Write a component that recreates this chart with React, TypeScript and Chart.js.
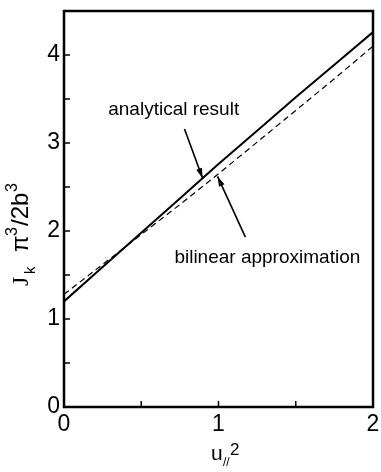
import React, { useEffect, useRef } from "react";
import { Chart, registerables } from "chart.js";

Chart.register(...registerables);

const xValues = [0, 0.25, 0.5, 0.75, 1, 1.25, 1.5, 1.75, 2];
const analytical = [1.2, 1.59, 1.98, 2.37, 2.76, 3.14, 3.52, 3.89, 4.26];
const bilinear = [1.28, 1.62, 1.96, 2.3, 2.65, 3.01, 3.37, 3.73, 4.1];
const xTickLabels = ["0", "1", "2"];
const yTickLabels = ["0", "1", "2", "3", "4"];

// annotation anchors in data units
const analyticalNote = { text: "analytical result", lx: 0.71, ly: 3.38, sx: 0.78, sy: 3.16, tx: 0.897, ty: 2.6 };
const bilinearNote = { text: "bilinear approximation", lx: 1.316, ly: 1.7, sx: 1.174, sy: 1.93, tx: 0.994, ty: 2.62 };

const FONT = "'Liberation Sans', Arial, Helvetica, sans-serif";
const SERIF = "'Liberation Serif', 'Times New Roman', serif";

const decorPlugin = {
  id: "decor",
  afterDraw(chart: any) {
    const { ctx, chartArea, scales } = chart;
    const xs = scales.x;
    const ys = scales.y;
    ctx.save();
    ctx.strokeStyle = "#000";
    ctx.lineWidth = 2.5;
    ctx.strokeRect(chartArea.left, chartArea.top, chartArea.right - chartArea.left, chartArea.bottom - chartArea.top);
    ctx.lineWidth = 1.5;
    for (const t of xs.ticks) {
      const px = xs.getPixelForValue(t.value);
      ctx.beginPath();
      ctx.moveTo(px, chartArea.bottom);
      ctx.lineTo(px, chartArea.bottom - 6);
      ctx.stroke();
    }
    for (const t of ys.ticks) {
      const py = ys.getPixelForValue(t.value);
      ctx.beginPath();
      ctx.moveTo(chartArea.left, py);
      ctx.lineTo(chartArea.left + 6, py);
      ctx.stroke();
    }
    const notes = [analyticalNote, bilinearNote];
    ctx.fillStyle = "#000";
    ctx.font = `19px ${FONT}`;
    ctx.textAlign = "center";
    ctx.textBaseline = "middle";
    for (const n of notes) {
      ctx.fillText(n.text, xs.getPixelForValue(n.lx), ys.getPixelForValue(n.ly));
      const x0 = xs.getPixelForValue(n.sx);
      const y0 = ys.getPixelForValue(n.sy);
      const x1 = xs.getPixelForValue(n.tx);
      const y1 = ys.getPixelForValue(n.ty);
      ctx.lineWidth = 1.6;
      ctx.beginPath();
      ctx.moveTo(x0, y0);
      ctx.lineTo(x1, y1);
      ctx.stroke();
      const ang = Math.atan2(y1 - y0, x1 - x0);
      const L = 10;
      const W = 3;
      ctx.beginPath();
      ctx.moveTo(x1, y1);
      ctx.lineTo(x1 - L * Math.cos(ang) + W * Math.sin(ang), y1 - L * Math.sin(ang) - W * Math.cos(ang));
      ctx.lineTo(x1 - L * Math.cos(ang) - W * Math.sin(ang), y1 - L * Math.sin(ang) + W * Math.cos(ang));
      ctx.closePath();
      ctx.fill();
    }
    // x axis title
    ctx.textAlign = "left";
    ctx.textBaseline = "alphabetic";
    ctx.font = `21px ${FONT}`;
    ctx.fillText("u", 211, 460);
    ctx.font = `12px ${FONT}`;
    ctx.fillText("//", 223, 466);
    ctx.font = `17px ${FONT}`;
    ctx.fillText("2", 230, 455);
    // y axis title (rotated)
    ctx.translate(28, 0);
    ctx.rotate(-Math.PI / 2);
    ctx.font = `24px ${SERIF}`;
    ctx.fillText("J", -286, 0);
    ctx.font = `15px ${FONT}`;
    ctx.fillText("k", -274, 7);
    ctx.font = `24px ${FONT}`;
    ctx.fillText("\u03c0", -252, 0);
    ctx.font = `16px ${FONT}`;
    ctx.fillText("3", -236, -11);
    ctx.font = `24px ${FONT}`;
    ctx.fillText("/2b", -226, 0);
    ctx.font = `16px ${FONT}`;
    ctx.fillText("3", -192, -11);
    ctx.restore();
  },
};

export default function App() {
  const ref = useRef<HTMLCanvasElement>(null);
  useEffect(() => {
    if (!ref.current) return;
    const chart = new Chart(ref.current, {
      type: "line",
      data: {
        datasets: [
          {
            label: "analytical result",
            data: xValues.map((x, i) => ({ x, y: analytical[i] })),
            borderColor: "#000",
            borderWidth: 2,
            pointRadius: 0,
            fill: false,
          },
          {
            label: "bilinear approximation",
            data: xValues.map((x, i) => ({ x, y: bilinear[i] })),
            borderColor: "#000",
            borderWidth: 1.2,
            borderDash: [6, 4],
            pointRadius: 0,
            fill: false,
          },
        ],
      },
      options: {
        responsive: false,
        animation: false,
        layout: { padding: { left: 0, top: 11, right: 8, bottom: 0 } },
        plugins: { legend: { display: false }, tooltip: { enabled: false } },
        scales: {
          x: {
            type: "linear",
            min: 0,
            max: 2,
            afterFit: (s: any) => {
              s.height = 65;
              s.paddingLeft = 0;
              s.paddingRight = 0;
            },
            grid: { display: false, drawTicks: false },
            border: { display: false },
            ticks: {
              stepSize: 0.5,
              padding: 4,
              color: "#000",
              maxRotation: 0,
              autoSkip: false,
              font: { family: FONT, size: 23 },
              callback: (v: any) => (Number.isInteger(v) ? xTickLabels[v] : ""),
            },
          },
          y: {
            min: 0,
            max: 4.5,
            afterFit: (s: any) => {
              s.width = 64;
              s.paddingTop = 0;
              s.paddingBottom = 0;
            },
            grid: { display: false, drawTicks: false },
            border: { display: false },
            ticks: {
              stepSize: 0.5,
              padding: 4,
              color: "#000",
              autoSkip: false,
              font: { family: FONT, size: 23 },
              callback: (v: any) => (Number.isInteger(v) ? yTickLabels[v] : ""),
            },
          },
        },
      },
      plugins: [decorPlugin],
    });
    return () => chart.destroy();
  }, []);
  return (
    <div style={{ position: "absolute", left: 0, top: 0, width: 381, height: 472, background: "#fff" }}>
      <canvas ref={ref} width={381} height={472} />
    </div>
  );
}
